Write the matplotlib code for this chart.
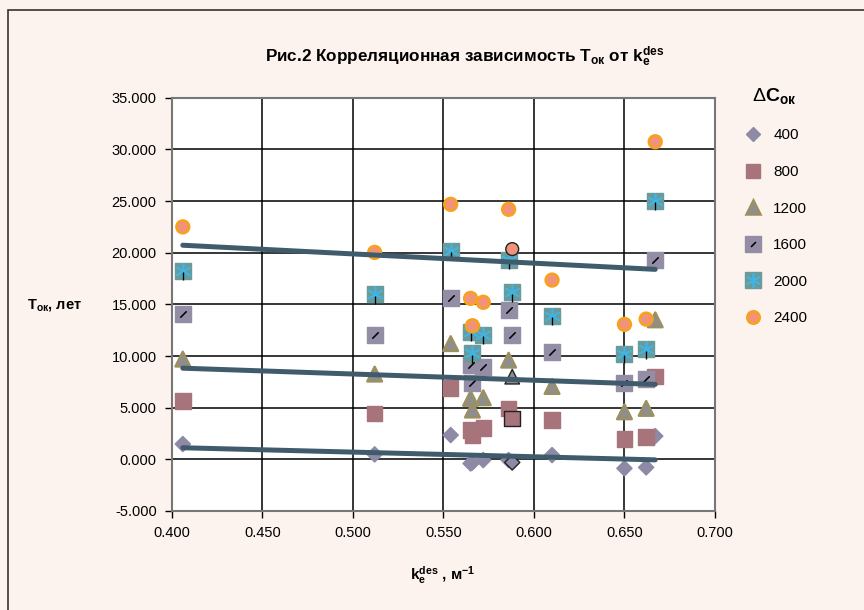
import matplotlib
matplotlib.use("Agg")
import matplotlib.pyplot as plt
from matplotlib.lines import Line2D
from matplotlib.patches import Rectangle
import numpy as np

plt.rcParams['font.family'] = ['Liberation Sans', 'DejaVu Sans']
plt.rcParams['mathtext.fontset'] = 'custom'
plt.rcParams['mathtext.rm'] = 'Liberation Sans'
plt.rcParams['mathtext.it'] = 'Liberation Sans'
plt.rcParams['mathtext.bf'] = 'Liberation Sans:bold'

# k_e^des, m^-1
kx = [0.406, 0.512, 0.554, 0.565, 0.566, 0.572, 0.586, 0.588, 0.610, 0.650, 0.662, 0.667]
# T_ok for each dC_ok
t400 = [1.48, 0.48, 2.35, -0.40, -0.30, -0.07, -0.07, -0.30, 0.41, -0.87, -0.78, 2.25]
t800 = [5.67, 4.45, 6.90, 2.83, 2.35, 3.05, 4.93, 3.97, 3.80, 1.96, 2.18, 8.00]
t1200 = [9.70, 8.25, 11.20, 5.90, 4.77, 5.96, 9.60, 8.00, 7.05, 4.60, 4.93, 13.50]
t1600 = [14.05, 12.03, 15.58, 9.13, 7.38, 8.96, 14.45, 12.03, 10.35, 7.38, 7.80, 19.30]
t2000 = [18.20, 15.97, 20.20, 12.35, 10.25, 12.03, 19.30, 16.16, 13.87, 10.20, 10.64, 25.00]
t2400 = [22.50, 20.03, 24.68, 15.58, 12.93, 15.20, 24.20, 20.35, 17.35, 13.06, 13.57, 30.74]
sel = 7  # point shown selected (black outline)

bg = '#fdf3ee'
fig = plt.figure(figsize=(8.64, 6.10), dpi=100, facecolor=bg)
ax = fig.add_axes([0.199, 0.1623, 0.6285, 0.6775])
ax.set_facecolor('white')

x = np.array(kx)

def ec_list(base, n=12):
    e = [base] * n
    e[sel] = '#222222'
    return e

def lw_list(base, n=12):
    w = [base] * n
    w[sel] = 1.0
    return w

# 400 - diamonds
ax.scatter(x, t400, marker='D', s=60, c='#8e8aa6', edgecolors=ec_list('#8e8aa6'), linewidths=1, zorder=3)
# 800 - squares
ax.scatter(x, t800, marker='s', s=125, c='#a8747b', edgecolors=ec_list('#a8747b'), linewidths=1, zorder=3)
# 1200 - triangles
ax.scatter(x, t1200, marker='^', s=110, c='#8c8e92', edgecolors=ec_list('#9c9060'),
           linewidths=lw_list(1.8), zorder=3)
# 1600 - squares with slash
ax.scatter(x, t1600, marker='s', s=135, c='#938da5', edgecolors='#938da5', linewidths=1, zorder=3)
ax.scatter(x, t1600, marker=(2, 2, -45), s=30, c='black', linewidths=0.8, zorder=4)
# 2000 - teal squares with asterisk
ax.scatter(x, t2000, marker='s', s=135, c='#6a9a9a', edgecolors='#6a9a9a', linewidths=1, zorder=3)
ax.scatter(x, t2000, marker=(6, 2, 0), s=120, c='#3eb5e5', linewidths=1.2, zorder=4)
ax.scatter(x, np.array(t2000) - 0.5, marker='|', s=40, c='black', linewidths=1, zorder=4)
# 2400 - circles
ax.scatter(x, t2400, marker='o', s=85, c='#f0937a', edgecolors=ec_list('#f8a21a'),
           linewidths=lw_list(1.8), zorder=5)

# linear trend lines
xt = np.array([x.min(), x.max()])
for ys in (t400, t1200, t2400):
    p = np.polyfit(x, ys, 1)
    ax.plot(xt, np.polyval(p, xt), color='#3f5b6c', lw=3.6, solid_capstyle='round', zorder=6)

ax.set_xlim(0.4, 0.7)
ax.set_ylim(-5, 35)
ax.set_xticks(np.arange(0.4, 0.701, 0.05))
ax.set_yticks(np.arange(-5, 35.1, 5))
ax.xaxis.set_major_formatter(matplotlib.ticker.FormatStrFormatter('%.3f'))
ax.yaxis.set_major_formatter(matplotlib.ticker.FormatStrFormatter('%.3f'))
ax.grid(True, color='black', lw=1.1)
ax.set_axisbelow(True)
for s in ax.spines.values():
    s.set_color('#777777')
    s.set_linewidth(1.5)
ax.tick_params(labelsize=10.5, length=5, width=1, color='black', pad=6)

fig.text(0.538, 0.907, r'Рис.2 Корреляционная зависимость T$_\mathbf{ок}$ от k$_\mathbf{e}^\mathbf{des}$',
         ha='center', va='center', fontsize=12.3, fontweight='bold')
fig.text(0.063, 0.500, r'T$_\mathbf{ок}$, лет', ha='center', va='center', fontsize=10.5, fontweight='bold')
fig.text(0.512, 0.057, r'k$_\mathbf{e}^\mathbf{des}$ , м$^\mathbf{-1}$', ha='center', va='center',
         fontsize=11, fontweight='bold')

# legend
handles = [
    Line2D([], [], ls='none', marker='D', ms=7, mfc='#8e8aa6', mec='#8e8aa6'),
    Line2D([], [], ls='none', marker='s', ms=10, mfc='#a8747b', mec='#a8747b'),
    Line2D([], [], ls='none', marker='^', ms=10, mfc='#8c8e92', mec='#9c9060', mew=1.8),
    (Line2D([], [], ls='none', marker='s', ms=11, mfc='#938da5', mec='#938da5'),
     Line2D([], [], ls='none', marker=(2, 2, -45), ms=5, mec='black', mew=0.8)),
    (Line2D([], [], ls='none', marker='s', ms=11, mfc='#6a9a9a', mec='#6a9a9a'),
     Line2D([], [], ls='none', marker=(6, 2, 0), ms=11, mec='#3eb5e5', mew=1.2)),
    Line2D([], [], ls='none', marker='o', ms=9, mfc='#f0937a', mec='#f8a21a', mew=1.8),
]
labels = ['400', '800', '1200', '1600', '2000', '2400']
leg = fig.legend(handles, labels, loc='upper left', bbox_to_anchor=(0.842, 0.882), frameon=False,
                 fontsize=11, labelspacing=1.48, handletextpad=0.6, handlelength=1.5,
                 title=r'$\Delta$C$_\mathbf{ок}$')
leg.get_title().set_fontsize(14)
leg.get_title().set_fontweight('bold')

# outer frame
fig.patches.append(Rectangle((8 / 864, -0.1), 1.2, 1.1 - 10 / 610, transform=fig.transFigure,
                             fill=False, edgecolor='#333333', lw=1.2))

fig.savefig('out.png', dpi=100, facecolor=bg)
